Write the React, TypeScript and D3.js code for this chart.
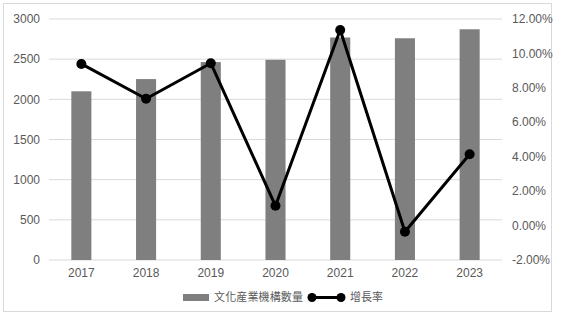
import React from "react";
import * as d3 from "d3";

const years = ["2017", "2018", "2019", "2020", "2021", "2022", "2023"];
const counts = [2100, 2252, 2464, 2492, 2770, 2760, 2872];
const growth = [9.39, 7.37, 9.43, 1.15, 11.36, -0.36, 4.14];
const leftTicks = [0, 500, 1000, 1500, 2000, 2500, 3000];
const rightTicks = [-2, 0, 2, 4, 6, 8, 10, 12];
const barName = "文化産業機構數量";
const lineName = "增長率";

export default function App() {
  const W = 566, H = 322;
  const left = 49, right = 502, top = 19, bottom = 260;
  const x = d3.scaleBand().domain(years).range([left, right]).paddingInner(0.69).paddingOuter(0.345);
  const xc = (d: string) => (x(d) as number) + x.bandwidth() / 2;
  const yL = d3.scaleLinear().domain([0, 3000]).range([bottom, top]);
  const yR = d3.scaleLinear().domain([-2, 12]).range([bottom, top]);
  const line = d3.line<number>().x((_, i) => xc(years[i])).y((d) => yR(d));
  const font = "'Liberation Sans', Arial, sans-serif";
  const cjk = "'Noto Sans CJK TC', 'Noto Sans CJK SC', sans-serif";
  const txt = "#595959";
  return (
    <svg width={W} height={H} style={{ position: "absolute", left: 0, top: 0 }} fontFamily={font}>
      <rect x={0} y={0} width={W} height={H} fill="#fff" />
      <rect x={3.5} y={3.5} width={548} height={308} fill="none" stroke="#d9d9d9" />
      {leftTicks.map((t) => (
        <line key={t} x1={left} x2={right} y1={yL(t)} y2={yL(t)} stroke="#d9d9d9" strokeWidth={1} />
      ))}
      {leftTicks.map((t) => (
        <text key={"l" + t} x={40} y={yL(t)} dy="0.35em" textAnchor="end" fontSize={12} fill={txt}>{t}</text>
      ))}
      {rightTicks.map((t) => (
        <text key={"r" + t} x={512} y={yR(t)} dy="0.35em" textAnchor="start" fontSize={12} fill={txt}>{t.toFixed(2) + "%"}</text>
      ))}
      {years.map((y) => (
        <text key={"x" + y} x={xc(y)} y={bottom + 17} textAnchor="middle" fontSize={12} fill={txt}>{y}</text>
      ))}
      {counts.map((c, i) => (
        <rect key={"b" + i} x={x(years[i])} y={yL(c)} width={x.bandwidth()} height={yL(0) - yL(c)} fill="#7f7f7f" />
      ))}
      <path d={line(growth) || ""} fill="none" stroke="#000" strokeWidth={3} strokeLinejoin="round" />
      {growth.map((g, i) => (
        <circle key={"c" + i} cx={xc(years[i])} cy={yR(g)} r={5} fill="#000" />
      ))}
      <g>
        <rect x={183} y={294} width={26} height={7} fill="#7f7f7f" />
        <text x={214} y={297.5} dy="0.35em" fontSize={11} fill={txt} fontFamily={cjk} textLength={89}>{barName}</text>
        <line x1={312} x2={341} y1={297.5} y2={297.5} stroke="#000" strokeWidth={3} />
        <circle cx={312} cy={297.5} r={4.5} fill="#000" />
        <circle cx={341} cy={297.5} r={4.5} fill="#000" />
        <text x={350} y={297.5} dy="0.35em" fontSize={11} fill={txt} fontFamily={cjk}>{lineName}</text>
      </g>
    </svg>
  );
}
